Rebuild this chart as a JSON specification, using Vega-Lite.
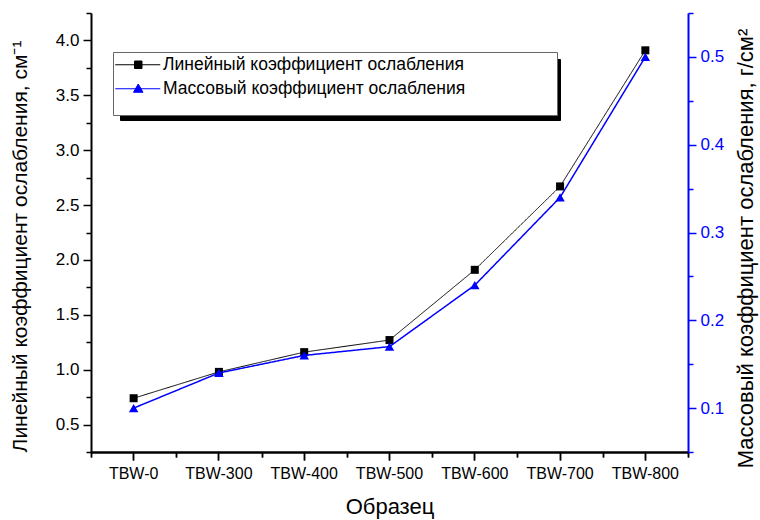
{
  "$schema": "https://vega.github.io/schema/vega-lite/v6.json",
  "width": 597,
  "height": 439,
  "autosize": {"type": "none"},
  "padding": {"left": 91, "top": 13, "right": 72, "bottom": 68},
  "config": {
    "view": {"stroke": null},
    "font": "Liberation Sans",
    "axis": {
      "labelFont": "Liberation Sans",
      "titleFont": "Liberation Sans",
      "titleFontWeight": "normal",
      "labelColor": "black",
      "titleColor": "black",
      "domainColor": "black",
      "tickColor": "black",
      "grid": false,
      "labelFontSize": 17,
      "titleFontSize": 22,
      "domainWidth": 2,
      "tickWidth": 1.5
    }
  },
  "data": {
    "values": [
      {"sample": "TBW-0", "linear": 0.74, "mass": 0.10},
      {"sample": "TBW-300", "linear": 0.98, "mass": 0.14},
      {"sample": "TBW-400", "linear": 1.16, "mass": 0.16},
      {"sample": "TBW-500", "linear": 1.27, "mass": 0.17},
      {"sample": "TBW-600", "linear": 1.91, "mass": 0.24},
      {"sample": "TBW-700", "linear": 2.67, "mass": 0.34},
      {"sample": "TBW-800", "linear": 3.91, "mass": 0.50}
    ]
  },
  "layer": [
    {
      "encoding": {
        "x": {
          "field": "sample", "type": "nominal", "sort": null,
          "scale": {"type": "band", "paddingInner": 0, "paddingOuter": 0},
          "axis": {"orient": "bottom", "title": "Образец", "labelAngle": 0, "labelPadding": 5, "labelFontSize": 16, "tickSize": 8, "titlePadding": 15}
        },
        "y": {
          "field": "linear", "type": "quantitative",
          "scale": {"domain": [0.25, 4.25], "nice": false, "zero": false},
          "axis": {
            "orient": "left",
            "title": "Линейный коэффициент ослабления, см⁻¹",
            "titleFontSize": 21,
            "titleY": 233,
            "values": [0.25, 0.5, 0.75, 1.0, 1.25, 1.5, 1.75, 2.0, 2.25, 2.5, 2.75, 3.0, 3.25, 3.5, 3.75, 4.0, 4.25],
            "labelExpr": "datum.value % 0.5 === 0 ? format(datum.value, '.1f') : ''",
            "labelOverlap": false,
            "labelPadding": 4,
            "tickSize": {"condition": {"test": "datum.value % 0.5 === 0", "value": 8}, "value": 5},
            "titlePadding": 25
          }
        },
        "color": {
          "datum": "Линейный коэффициент ослабления",
          "scale": {"domain": ["Линейный коэффициент ослабления", "Массовый коэффициент ослабления"], "range": ["#000000", "#0000ff"]},
          "legend": {
            "orient": "none", "legendX": 22, "legendY": 39, "title": null,
            "fillColor": "white", "strokeColor": "#666666", "padding": 4, "rowPadding": 5,
            "labelFont": "Liberation Sans", "labelFontSize": 17.5, "labelColor": "black", "labelLimit": 500,
            "symbolSize": 100, "symbolStrokeWidth": 1, "symbolOffset": 12.5, "labelOffset": 16,
            "zindex": 2,
            "encode": {
              "legend": {"update": {"fill": {"value": "white"}, "stroke": {"value": "#666666"}}},
              "symbols": {
                "update": {
                  "shape": {"signal": "datum.index === 0 ? 'M-4.6,0H4.4M-0.75,-0.75H0.75V0.75H-0.75Z' : 'M-4.6,0H4.4M0,-0.95L0.95,0.7H-0.95ZM82.4,3.9'"},
                  "fill": {"signal": "datum.index === 0 ? '#000000' : '#0000ff'"},
                  "stroke": {"signal": "datum.index === 0 ? '#000000' : '#0000ff'"},
                  "strokeWidth": {"value": 1},
                  "opacity": {"value": 1}
                }
              }
            }
          }
        }
      },
      "layer": [
        {
          "mark": {"type": "line", "strokeWidth": 1},
          "encoding": {
            "strokeDash": {
              "datum": "Линейный коэффициент ослабления",
              "scale": {"range": [[1, 0], [1, 0]]},
              "legend": {
                "orient": "none", "legendX": 29, "legendY": 46, "title": null,
                "fillColor": "black", "strokeColor": "black", "padding": 4, "rowPadding": 13,
                "labelFont": "Liberation Sans", "labelFontSize": 20, "labelColor": "black", "labelLimit": 600,
                "symbolSize": 100, "symbolStrokeWidth": 1, "symbolOffset": 12.5, "labelOffset": 53.5,
                "symbolFillColor": "black", "symbolStrokeColor": "black",
                "zindex": 1,
                "encode": {
                  "legend": {"update": {"fill": {"value": "black"}, "stroke": {"value": "black"}}},
                  "symbols": {
                    "update": {
                      "fill": {"value": "black"},
                      "stroke": {"value": "black"}
                    }
                  }
                }
              }
            }
          }
        },
        {
          "mark": {"type": "point", "shape": "square", "filled": true, "size": 64, "opacity": 1},
          "encoding": {
            "x": {
              "field": "sample", "type": "nominal", "sort": null,
              "scale": {"type": "band", "paddingInner": 0, "paddingOuter": 0},
              "axis": {"orient": "bottom", "title": null, "labels": false, "domain": false, "tickBand": "extent", "tickSize": 5}
            }
          }
        }
      ],
      "resolve": {"axis": {"x": "independent"}}
    },
    {
      "encoding": {
        "x": {
          "field": "sample", "type": "nominal", "sort": null,
          "scale": {"type": "band", "paddingInner": 0, "paddingOuter": 0},
          "axis": {"orient": "bottom", "position": 0, "title": null, "labels": false, "tickSize": 8}
        },
        "y": {
          "field": "mass", "type": "quantitative",
          "scale": {"domain": [0.05, 0.55], "nice": false, "zero": false},
          "axis": {
            "orient": "right",
            "title": "Массовый коэффициент ослабления, г/см²",
            "titleAngle": -90,
            "titleBaseline": "top",
            "titleY": 235,
            "values": [0.05, 0.1, 0.15, 0.2, 0.25, 0.3, 0.35, 0.4, 0.45, 0.5, 0.55],
            "labelExpr": "round(datum.value * 100) % 10 === 0 ? format(datum.value, '.1f') : ''",
            "labelOverlap": false,
            "labelPadding": 4,
            "labelColor": "#0000ff",
            "tickColor": "#0000ff",
            "domainColor": "#0000ff",
            "tickSize": {"condition": {"test": "round(datum.value * 100) % 10 === 0", "value": 8}, "value": 5},
            "titlePadding": 12
          }
        },
        "color": {
          "datum": "Массовый коэффициент ослабления",
          "scale": {"domain": ["Линейный коэффициент ослабления", "Массовый коэффициент ослабления"], "range": ["#000000", "#0000ff"]}
        }
      },
      "layer": [
        {
          "mark": {"type": "line", "strokeWidth": 1.5},
          "encoding": {
            "strokeDash": {"datum": "Массовый коэффициент ослабления", "scale": {"range": [[1, 0], [1, 0]]}}
          }
        },
        {
          "mark": {"type": "point", "shape": "triangle-up", "filled": true, "size": 90, "opacity": 1},
          "encoding": {
            "x": {
              "field": "sample", "type": "nominal", "sort": null,
              "scale": {"type": "band", "paddingInner": 0, "paddingOuter": 0},
              "axis": {"orient": "bottom", "position": 0, "title": null, "labels": false, "domain": false, "tickBand": "extent", "tickSize": 5}
            }
          }
        }
      ],
      "resolve": {"axis": {"x": "independent"}}
    }
  ],
  "resolve": {"scale": {"y": "independent"}, "axis": {"x": "independent"}}
}
